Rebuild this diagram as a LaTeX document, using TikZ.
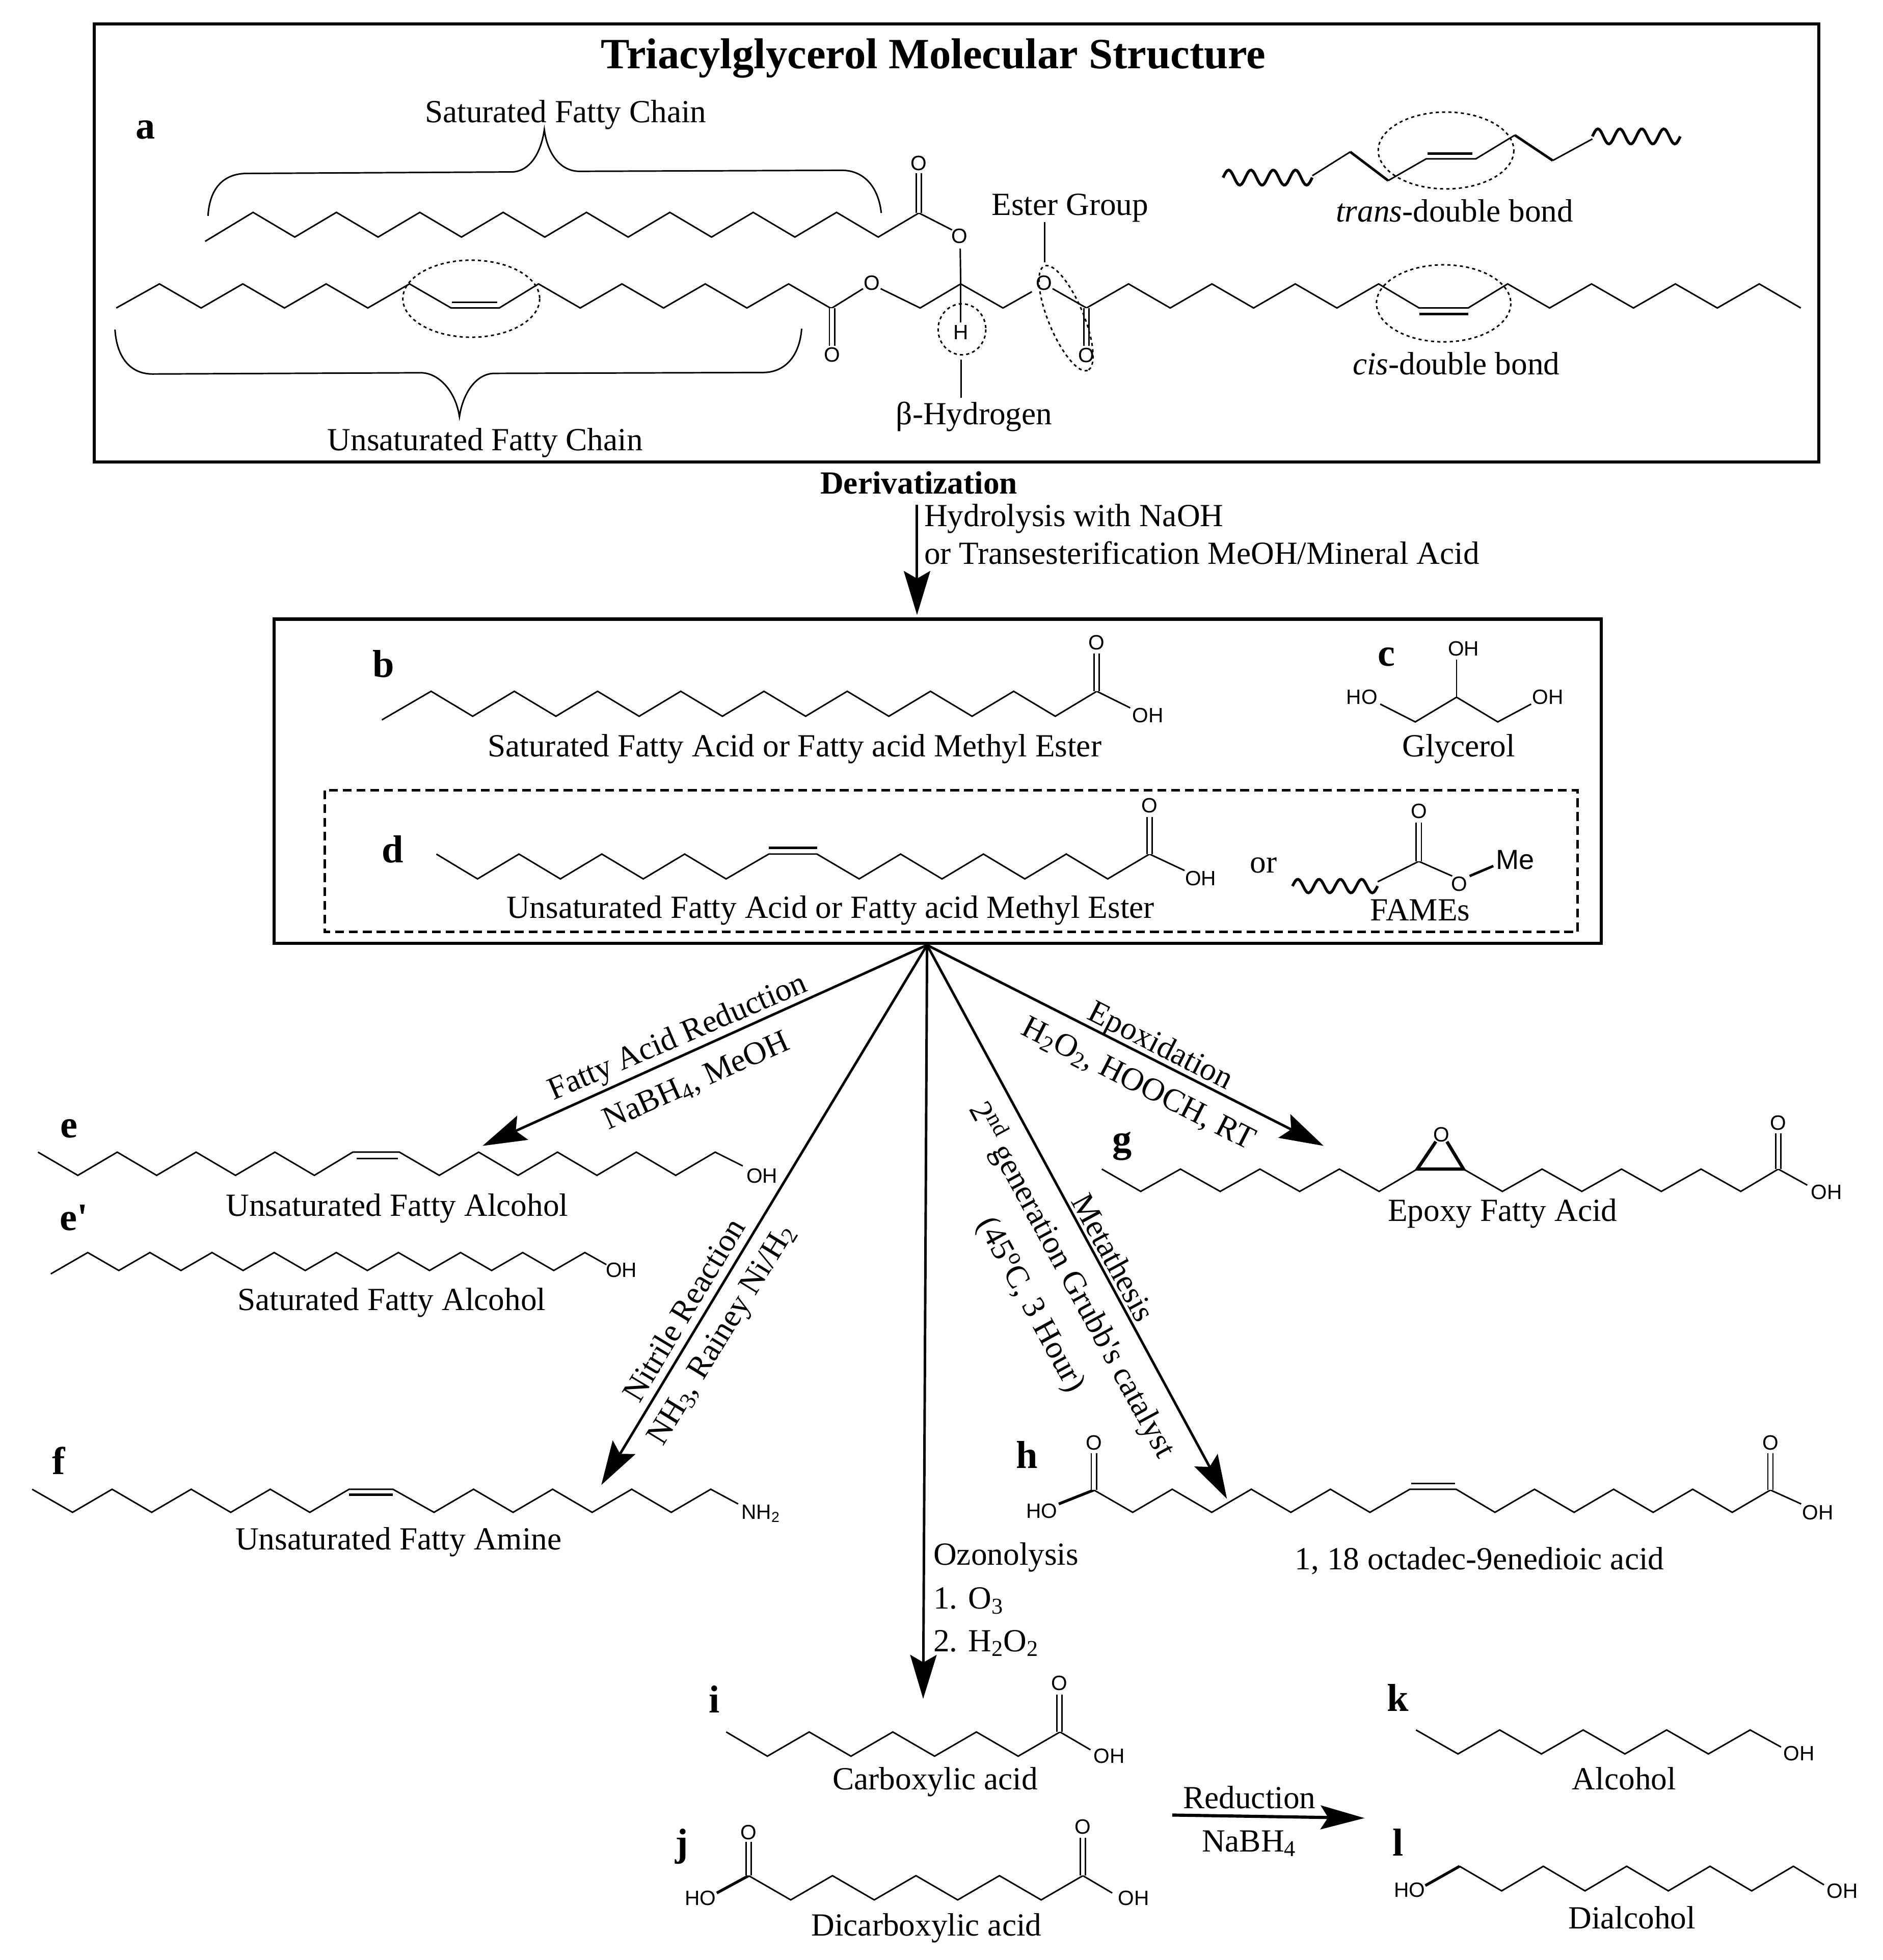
\documentclass[tikz,border=0pt]{standalone}
\usepackage{fontspec}
\setmainfont{Liberation Serif}
\newfontfamily\atomfont{Liberation Sans}
\usetikzlibrary{arrows.meta}
\newcommand{\zig}[5]{-- plot[samples at={0,...,#5},variable=\k] ({#1+#2*\k},{#3+#4*mod(\k,2)})}
\newcommand{\squig}[4]{plot[domain=0:4,samples=64,smooth,variable=\w] ({#1+#3*\w/4},{#2-#4*sin(360*\w)})}
\tikzset{
	lbl/.style={font=\fontsize{25.7}{30}\selectfont, anchor=base, inner sep=0pt, yshift=-1pt},
	tag/.style={font=\fontsize{31}{34}\selectfont\bfseries, anchor=base, inner sep=0pt},
	atom/.style={font=\atomfont\fontsize{16.5}{18}\selectfont, inner sep=0pt},
	bond/.style={line width=1.2pt, line join=miter},
	heavybond/.style={line width=2.6pt},
	cobond/.style={line width=1.1pt, double, double distance=3pt},
	wave/.style={line width=2.2pt},
	ring/.style={line width=1.2pt, dash pattern=on 2.5pt off 2.5pt},
	brace/.style={line width=1.2pt},
	boxline/.style={line width=2.5pt},
	dashbox/.style={line width=2pt, dash pattern=on 7pt off 4pt},
	rxn/.style={line width=2pt, -{Stealth[length=35pt,width=21pt,inset=6pt]}},
}
\begin{document}
\begin{tikzpicture}[x=1pt,y=-1pt]
	\useasboundingbox (0,0) rectangle (1500,1561.7);
	\fill[white] (0,0) rectangle (1500,1561.7);

	\draw[boxline] (75,19) rectangle (1449,368);
	\node[font=\fontsize{34.4}{36}\selectfont\bfseries, anchor=base, inner sep=0pt] (title) at (743.5,54.6) {Triacylglycerol Molecular Structure};
	\node[tag] (taga) at (116,110.7) {a};
	\node[lbl] (satchain) at (450.6,96.4) {Saturated Fatty Chain};
	\node[lbl] (unsatchain) at (386.5,357.8) {Unsaturated Fatty Chain};
	\node[lbl] (estergroup) at (852.4,170.4) {Ester Group};
	\node[lbl] (betah) at (776,337.4) {β-Hydrogen};
	\node[lbl] (transbond) at (1158.8,175.8) {\textit{trans}-double bond};
	\node[lbl] (cisbond) at (1160,297.5) {\textit{cis}-double bond};

	\draw[brace] (165.7,172) .. controls (167,150) and (178,138.5) .. (196,138.2) -- (408,137) .. controls (422,136.5) and (431,122) .. (433.6,103.3) .. controls (436,122) and (446,136.5) .. (461.6,136.5) -- (671.2,135.7) .. controls (689,136) and (700,150) .. (702,169.7);
	\draw[brace] (91.6,262.6) .. controls (93,285) and (104,298) .. (121.5,298) -- (335.8,297) .. controls (350,297.5) and (363,312) .. (366,332) .. controls (369,312) and (380,297.5) .. (394,297.5) -- (608.3,296.8) .. controls (626,296.5) and (637,283) .. (638.6,261.9);

	\draw[bond] (163.4,192.3) \zig{201.6}{33.2}{169.2}{19.7}{15} -- (732,169.7) -- (758.4,183.2);
	\draw[cobond] (732,169.7) -- (732,138);
	\node[atom] (otop) at (732,130) {O};
	\node[atom] (oester) at (764.4,188) {O};
	\draw[bond] (764.9,198) -- (765.3,226.2);

	\draw[bond] (92.6,245.4) \zig{127}{33.2}{226.2}{19.2}{7} -- (397.7,245.4) \zig{429}{33.2}{226.2}{19.2}{7} -- (662.8,245.4) -- (687.5,230);
	\draw[bond] (360,241) -- (396,241);
	\draw[cobond] (662.8,245.4) -- (662.8,275.5);
	\node[atom] (oleft) at (662.8,282.8) {O};
	\node[atom] (oleftester) at (694.5,225.5) {O};
	\draw[bond] (701.5,230) -- (733,245.4) -- (765.3,226.2) -- (799,245.4) -- (822,232.4);
	\draw[bond] (765.3,226.2) -- (765.3,257);
	\node[atom] (hbeta) at (765.3,265) {H};
	\node[atom] (orightester) at (831.5,225.5) {O};
	\draw[bond] (838.5,230) -- (865.5,245.4) \zig{899}{33.2}{226.2}{19.2}{6} -- (1130.5,245.4) -- (1169.5,245.4) \zig{1201}{33.4}{226.2}{19.2}{6} -- (1434.5,245.4);
	\draw[line width=2pt] (1130.5,250.3) -- (1169.5,250.3);
	\draw[cobond] (865.5,245.4) -- (865.5,275.5);
	\node[atom] (oright) at (865.5,283) {O};

	\draw[ring] (375.4,238) ellipse [x radius=54.5, y radius=30.7];
	\draw[ring] (766.3,262.4) ellipse [x radius=19, y radius=20.3];
	\draw[ring, rotate around={-67.5:(849.2,253.5)}] (849.2,253.5) ellipse [x radius=45, y radius=14];
	\draw[ring] (1150,241.7) ellipse [x radius=53.5, y radius=30.7];
	\draw[ring] (1151.9,119.9) ellipse [x radius=54, y radius=30.6];

	\coordinate (esterfoot) at (832,209);
	\coordinate (esterhead) at (832,177);
	\draw[bond] (esterhead) -- (esterfoot);
	\coordinate (betahead) at (765.8,286.5);
	\coordinate (betafoot) at (765.8,317);
	\draw[bond] (betahead) -- (betafoot);

	\draw[wave] \squig{974.3}{141.5}{71}{6};
	\draw[bond] (1045.4,140) -- (1075.6,121);
	\draw[line width=2pt] (1075.6,121) -- (1105.8,143.9);
	\draw[bond] (1105.8,143.9) -- (1136,126.6) -- (1175.6,126.6) -- (1206.7,107.7);
	\draw[line width=2pt] (1206.7,107.7) -- (1236.9,127.9);
	\draw[bond] (1236.9,127.9) -- (1268.5,110.7);
	\draw[line width=2pt] (1137,122.2) -- (1173,122.2);
	\draw[wave] \squig{1268.5}{108.7}{70}{6};

	\node[lbl] (derivatization) at (732,392.5) {\textbf{Derivatization}};
	\node[lbl, anchor=base west] (hydrolysis) at (736,418.5) {Hydrolysis with NaOH};
	\node[lbl, anchor=base west] (transester) at (736,448.5) {or Transesterification MeOH/Mineral Acid};
	\coordinate (derivstart) at (730.5,402);
	\coordinate (derivtip) at (730.5,490);
	\draw[rxn] (derivstart) -- (derivtip);

	\draw[boxline] (218.3,493.3) rectangle (1275.6,751.5);
	\draw[dashbox] (258.8,629.8) rectangle (1256.7,742.5);
	\node[tag] (tagb) at (305.6,539.5) {b};
	\node[tag] (tagc) at (1104.4,530.5) {c};
	\node[tag] (tagd) at (312.6,687.2) {d};

	\draw[bond] (304.2,573.6) \zig{343.4}{33.15}{550.8}{19.9}{15} -- (873.7,550.8) -- (900.3,564);
	\draw[cobond] (873.7,550.8) -- (873.7,520.5);
	\node[atom] (ob) at (873.7,511.8) {O};
	\node[atom] (ohb) at (914.5,570) {OH};
	\node[lbl] (satacid) at (633,602) {Saturated Fatty Acid or Fatty acid Methyl Ester};

	\draw[bond] (1099.5,561) -- (1127.4,575.2) -- (1160.3,555.5) -- (1193.1,575.2) -- (1219.7,561);
	\draw[bond] (1160.3,555.5) -- (1160.3,525.5);
	\node[atom] (hoglya) at (1085,555.5) {HO};
	\node[atom] (ohglyb) at (1165.8,517) {OH};
	\node[atom] (ohglyc) at (1233,555.5) {OH};
	\node[lbl] (glycerol) at (1162,602) {Glycerol};

	\draw[bond] (347.6,680.5) \zig{380.4}{33}{700.3}{-19.8}{6} -- (612.4,680.5) -- (650.8,680.5) \zig{684.4}{33}{700.3}{-19.8}{6} -- (915.7,680.5) -- (943.6,693.6);
	\draw[line width=2pt] (612.4,675.4) -- (650.8,675.4);
	\draw[cobond] (915.7,680.5) -- (915.7,651);
	\node[atom] (od) at (915.7,642) {O};
	\node[atom] (ohd) at (956.5,700) {OH};
	\node[lbl] (or) at (1006.5,694.5) {or};
	\node[lbl] (unsatacid) at (661.5,730.7) {Unsaturated Fatty Acid or Fatty acid Methyl Ester};

	\draw[wave] \squig{1029.6}{706}{67.8}{5.4};
	\draw[bond] (1097.4,702.6) -- (1130.2,686.3) -- (1156.8,698);
	\draw[cobond] (1130.2,686.3) -- (1130.2,655.5);
	\node[atom] (ofame) at (1130.2,646.5) {O};
	\node[atom] (oofame) at (1162.4,704.4) {O};
	\draw[line width=2pt] (1170.7,698) -- (1189.6,690);
	\node[atom, font=\atomfont\fontsize{22}{24}\selectfont] (me) at (1207,685) {Me};
	\node[lbl] (fames) at (1131.3,732.5) {FAMEs};

	\coordinate (hub) at (738.5,753);
	\coordinate (etip) at (384.4,913);
	\coordinate (ftip) at (479,1183.2);
	\coordinate (itip) at (735.4,1353.6);
	\coordinate (htip) at (977.4,1194.3);
	\coordinate (gtip) at (1054.4,913);
	\draw[rxn] (hub) -- (etip);
	\draw[rxn] (hub) -- (ftip);
	\draw[rxn] (hub) -- (itip);
	\draw[rxn] (hub) -- (htip);
	\draw[rxn] (hub) -- (gtip);

	\node[lbl, rotate=23.3] (fattyred) at (542.6,832) {Fatty Acid Reduction};
	\node[lbl, rotate=24] (nabhmeoh) at (557.5,867) {NaBH\textsubscript{4}, MeOH};
	\node[lbl, rotate=59] (nitrile) at (552,1047) {Nitrile Reaction};
	\node[lbl, rotate=58.5] (raney) at (581,1066) {NH\textsubscript{3},\hspace{2pt} Rainey Ni/H\textsubscript{2}};
	\node[lbl, rotate=-27] (epoxidation) at (921,839) {Epoxidation};
	\node[lbl, rotate=-27] (perox) at (903.5,869) {H\textsubscript{2}O\textsubscript{2}, HOOCH, RT};
	\node[lbl, rotate=-61.5] (metathesis) at (879.5,1005) {Metathesis};
	\node[lbl, rotate=-61.5] (grubbs) at (847.4,1022.5) {2\textsuperscript{nd} generation Grubb\textquotesingle s catalyst};
	\node[lbl, rotate=-61.5] (fortyfive) at (815,1042) {(45\textsuperscript{o}C, 3 Hour)};
	\node[lbl, anchor=base west] (ozonolysis) at (743.4,1246) {Ozonolysis};
	\node[lbl, anchor=base west] (ozone) at (743.4,1281) {1. O\textsubscript{3}};
	\node[lbl, anchor=base west] (peroxide) at (743.4,1315) {2. H\textsubscript{2}O\textsubscript{2}};

	\node[tag] (tage) at (55,906.3) {e};
	\draw[bond] (30.3,918) \zig{62}{31.4}{936.5}{-18.5}{6} -- (281,918) -- (318.2,918) \zig{349.9}{31.4}{936.5}{-18.5}{7} -- (591.7,929);
	\draw[bond] (284,923.1) -- (316.8,923.1);
	\node[atom] (ohe) at (607,937) {OH};
	\node[lbl] (unsatalc) at (316.3,968) {Unsaturated Fatty Alcohol};

	\node[tag] (tageprime) at (59,980.3) {e\textquotesingle};
	\draw[bond] (40.5,1015) \zig{69.9}{24.75}{998}{14.3}{16} -- (483,1007.6);
	\node[atom] (ohep) at (495,1012) {OH};
	\node[lbl] (satalc) at (312,1043) {Saturated Fatty Alcohol};

	\node[tag] (tagf) at (46.6,1174.8) {f};
	\draw[bond] (25.6,1186.6) \zig{57.8}{31.5}{1205}{-18.4}{6} -- (278.1,1186.6) -- (313,1186.6) \zig{345.7}{31.5}{1205}{-18.4}{7} -- (588,1198.3);
	\draw[line width=2pt] (278.1,1191) -- (313,1191);
	\node[atom] (nh) at (606,1206) {NH\textsubscript{2}};
	\node[lbl] (unsatamine) at (317.5,1233.7) {Unsaturated Fatty Amine};

	\node[tag] (tagg) at (894,918) {g};
	\draw[bond] (877.7,931.5) \zig{908.7}{31.65}{949.3}{-17.8}{6} -- (1129,931.5);
	\draw[heavybond] (1143.8,909.6) -- (1129,931.5) -- (1165.8,931.5) -- (1152.6,909.6);
	\node[atom] (oepox) at (1148.2,903.9) {O};
	\draw[bond] (1165.8,931.5) \zig{1196.8}{31.65}{949.3}{-17.8}{6} -- (1416.6,931.5) -- (1439.7,944.3);
	\draw[cobond] (1416.6,931.5) -- (1416.6,903);
	\node[atom] (og) at (1416.6,894.5) {O};
	\node[atom] (ohg) at (1455,950) {OH};
	\node[lbl] (epoxy) at (1197,972.2) {Epoxy Fatty Acid};

	\node[tag] (tagh) at (817.9,1169.7) {h};
	\draw[bond, line width=2.2pt] (843.4,1198.3) -- (871.4,1187.2);
	\draw[bond] (871.4,1187.2) \zig{902.3}{31.5}{1205}{-18.4}{6} -- (1123.1,1186.6) -- (1160,1186.6) \zig{1190.9}{31.5}{1205}{-18.4}{6} -- (1410.3,1187.2) -- (1434.8,1198.3);
	\draw[bond] (1124,1182.2) -- (1159,1182.2);
	\draw[cobond] (871.4,1187.2) -- (871.4,1158);
	\draw[cobond] (1410.3,1187.2) -- (1410.3,1158);
	\node[atom] (oh) at (871.4,1149.6) {O};
	\node[atom] (hoh) at (830,1204) {HO};
	\node[atom] (ohh) at (1448,1205) {OH};
	\node[atom] (ohtwo) at (1410.3,1149.6) {O};
	\node[lbl] (octadec) at (1178.6,1249.5) {1, 18 octadec-9enedioic acid};

	\node[tag] (tagi) at (569.2,1364.6) {i};
	\draw[bond] (578.5,1380) \zig{611.3}{33.3}{1399.3}{-19.3}{7} -- (868.7,1394.2);
	\draw[cobond] (843.9,1380) -- (843.9,1350.3);
	\node[atom] (oi) at (843.9,1341) {O};
	\node[atom] (ohi) at (883.5,1399) {OH};
	\node[lbl] (carboxylic) at (745,1425) {Carboxylic acid};

	\node[tag] (tagj) at (543,1478.7) {j};
	\draw[bond, line width=2.2pt] (571,1508.3) -- (596.4,1494.5);
	\draw[bond] (596.4,1494.5) \zig{629.9}{33.25}{1513.8}{-19.3}{7} -- (886,1508.3);
	\draw[cobond] (596.4,1494.5) -- (596.4,1467.7);
	\draw[cobond] (862.5,1494.5) -- (862.5,1464.4);
	\node[atom] (oj) at (596.4,1460) {O};
	\node[atom] (ojtwo) at (862.5,1455.7) {O};
	\node[atom] (hoj) at (558,1512.5) {HO};
	\node[atom] (ohj) at (903,1512.5) {OH};
	\node[lbl] (dicarboxylic) at (738,1541.3) {Dicarboxylic acid};

	\coordinate (redstart) at (933.8,1446.2);
	\coordinate (redtip) at (1087,1448.6);
	\draw[line width=2.5pt, -{Stealth[length=35pt,width=19pt,inset=6pt]}] (redstart) -- (redtip);
	\node[lbl] (reduction) at (995.3,1440) {Reduction};
	\node[lbl] (nabh) at (995,1474.3) {NaBH\textsubscript{4}};

	\node[tag] (tagk) at (1113.7,1363.5) {k};
	\draw[bond] (1128,1378.4) \zig{1161.4}{33.25}{1397.5}{-19.1}{7} -- (1418.8,1392);
	\node[atom] (ohk) at (1433,1397) {OH};
	\node[lbl] (alcohol) at (1293.8,1425) {Alcohol};

	\node[tag] (tagl) at (1113.7,1478.7) {l};
	\draw[bond, line width=2.2pt] (1135.4,1502.4) -- (1162.7,1487);
	\draw[bond] (1162.7,1487) \zig{1196.2}{33.2}{1506.6}{-19.6}{7} -- (1453,1501.8);
	\node[atom] (hol) at (1123,1506) {HO};
	\node[atom] (ohl) at (1467.5,1506.5) {OH};
	\node[lbl] (dialcohol) at (1300,1535.8) {Dialcohol};
\end{tikzpicture}
\end{document}
